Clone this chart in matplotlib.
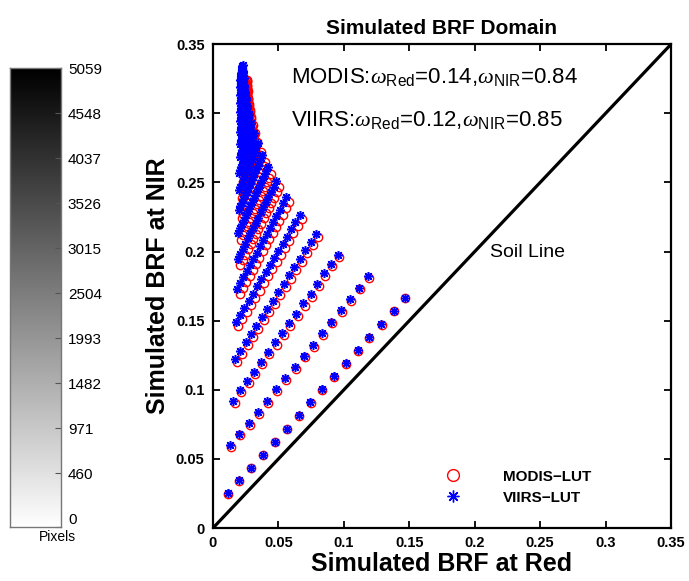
import numpy as np
import matplotlib
matplotlib.use("Agg")
import matplotlib.pyplot as plt
from matplotlib.lines import Line2D

plt.rcParams['font.family'] = ['Liberation Sans', 'DejaVu Sans']
plt.rcParams['mathtext.fontset'] = 'custom'
plt.rcParams['mathtext.rm'] = 'Liberation Sans'
plt.rcParams['mathtext.it'] = 'Liberation Serif:italic'

# VIIRS-LUT simulated BRF, one row per LUT line (red band, NIR band)
viirs_red = [
    [0.0112, 0.0201, 0.0290, 0.0382, 0.0474, 0.0563, 0.0655, 0.0744, 0.0835, 0.0925, 0.1016, 0.1106, 0.1194, 0.1286, 0.1381, 0.1467],
    [0.0130, 0.0201, 0.0273, 0.0344, 0.0415, 0.0481, 0.0553, 0.0624, 0.0695, 0.0764, 0.0833, 0.0904, 0.0976, 0.1047, 0.1116, 0.1187],
    [0.0155, 0.0204, 0.0262, 0.0313, 0.0367, 0.0420, 0.0476, 0.0530, 0.0581, 0.0637, 0.0690, 0.0747, 0.0797, 0.0848, 0.0902, 0.0955],
    [0.0168, 0.0209, 0.0251, 0.0292, 0.0333, 0.0375, 0.0416, 0.0457, 0.0498, 0.0540, 0.0581, 0.0622, 0.0664, 0.0705, 0.0746, 0.0788],
    [0.0176, 0.0208, 0.0241, 0.0273, 0.0306, 0.0338, 0.0370, 0.0403, 0.0435, 0.0468, 0.0500, 0.0532, 0.0565, 0.0597, 0.0630, 0.0662],
    [0.0183, 0.0208, 0.0233, 0.0259, 0.0284, 0.0309, 0.0334, 0.0359, 0.0385, 0.0410, 0.0435, 0.0460, 0.0485, 0.0511, 0.0536, 0.0561],
    [0.0188, 0.0208, 0.0227, 0.0247, 0.0267, 0.0287, 0.0306, 0.0326, 0.0346, 0.0365, 0.0385, 0.0405, 0.0424, 0.0444, 0.0464, 0.0484],
    [0.0193, 0.0208, 0.0224, 0.0239, 0.0255, 0.0270, 0.0285, 0.0301, 0.0316, 0.0332, 0.0347, 0.0362, 0.0378, 0.0393, 0.0409, 0.0424],
    [0.0197, 0.0209, 0.0221, 0.0233, 0.0245, 0.0257, 0.0269, 0.0281, 0.0293, 0.0305, 0.0317, 0.0329, 0.0341, 0.0353, 0.0365, 0.0377],
    [0.0201, 0.0210, 0.0220, 0.0229, 0.0239, 0.0248, 0.0257, 0.0267, 0.0276, 0.0286, 0.0295, 0.0304, 0.0314, 0.0323, 0.0333, 0.0342],
    [0.0203, 0.0210, 0.0218, 0.0225, 0.0233, 0.0240, 0.0247, 0.0255, 0.0262, 0.0270, 0.0277, 0.0284, 0.0292, 0.0299, 0.0307, 0.0314],
    [0.0205, 0.0211, 0.0217, 0.0222, 0.0228, 0.0234, 0.0240, 0.0246, 0.0251, 0.0257, 0.0263, 0.0269, 0.0275, 0.0280, 0.0286, 0.0292],
    [0.0206, 0.0211, 0.0215, 0.0220, 0.0224, 0.0229, 0.0234, 0.0238, 0.0243, 0.0247, 0.0252, 0.0257, 0.0261, 0.0266, 0.0270, 0.0275],
    [0.0207, 0.0211, 0.0214, 0.0218, 0.0222, 0.0226, 0.0229, 0.0233, 0.0237, 0.0240, 0.0244, 0.0248, 0.0251, 0.0255, 0.0259, 0.0263],
    [0.0208, 0.0211, 0.0214, 0.0217, 0.0220, 0.0223, 0.0226, 0.0229, 0.0232, 0.0235, 0.0238, 0.0241, 0.0244, 0.0247, 0.0250, 0.0253],
    [0.0209, 0.0211, 0.0214, 0.0216, 0.0219, 0.0221, 0.0223, 0.0226, 0.0228, 0.0231, 0.0233, 0.0235, 0.0238, 0.0240, 0.0243, 0.0245],
    [0.0209, 0.0211, 0.0213, 0.0215, 0.0217, 0.0219, 0.0221, 0.0223, 0.0225, 0.0227, 0.0229, 0.0231, 0.0233, 0.0235, 0.0237, 0.0239],
    [0.0210, 0.0212, 0.0213, 0.0215, 0.0216, 0.0218, 0.0220, 0.0221, 0.0223, 0.0224, 0.0226, 0.0228, 0.0229, 0.0231, 0.0232, 0.0234],
    [0.0210, 0.0211, 0.0213, 0.0214, 0.0215, 0.0217, 0.0218, 0.0219, 0.0220, 0.0222, 0.0223, 0.0224, 0.0226, 0.0227, 0.0228, 0.0230],
    [0.0210, 0.0211, 0.0212, 0.0213, 0.0214, 0.0216, 0.0217, 0.0218, 0.0219, 0.0220, 0.0221, 0.0222, 0.0223, 0.0224, 0.0225, 0.0227],
]
viirs_nir = [
    [0.0251, 0.0345, 0.0436, 0.0530, 0.0624, 0.0718, 0.0815, 0.0909, 0.1003, 0.1097, 0.1191, 0.1287, 0.1379, 0.1473, 0.1571, 0.1665],
    [0.0600, 0.0682, 0.0761, 0.0839, 0.0920, 0.1003, 0.1085, 0.1164, 0.1246, 0.1325, 0.1412, 0.1492, 0.1574, 0.1656, 0.1740, 0.1822],
    [0.0920, 0.0998, 0.1063, 0.1130, 0.1205, 0.1273, 0.1343, 0.1410, 0.1480, 0.1547, 0.1625, 0.1690, 0.1764, 0.1842, 0.1909, 0.1978],
    [0.1222, 0.1283, 0.1343, 0.1404, 0.1464, 0.1525, 0.1585, 0.1646, 0.1706, 0.1767, 0.1827, 0.1888, 0.1948, 0.2009, 0.2069, 0.2130],
    [0.1490, 0.1542, 0.1593, 0.1645, 0.1696, 0.1748, 0.1800, 0.1851, 0.1903, 0.1954, 0.2006, 0.2058, 0.2109, 0.2161, 0.2212, 0.2264],
    [0.1726, 0.1770, 0.1815, 0.1859, 0.1904, 0.1948, 0.1992, 0.2037, 0.2081, 0.2126, 0.2170, 0.2214, 0.2259, 0.2303, 0.2348, 0.2392],
    [0.1945, 0.1983, 0.2020, 0.2058, 0.2095, 0.2133, 0.2170, 0.2208, 0.2245, 0.2283, 0.2320, 0.2358, 0.2395, 0.2433, 0.2470, 0.2508],
    [0.2135, 0.2167, 0.2199, 0.2230, 0.2262, 0.2294, 0.2326, 0.2358, 0.2389, 0.2421, 0.2453, 0.2485, 0.2517, 0.2548, 0.2580, 0.2612],
    [0.2300, 0.2327, 0.2354, 0.2380, 0.2407, 0.2434, 0.2461, 0.2488, 0.2514, 0.2541, 0.2568, 0.2595, 0.2622, 0.2648, 0.2675, 0.2702],
    [0.2444, 0.2467, 0.2489, 0.2512, 0.2534, 0.2557, 0.2580, 0.2602, 0.2625, 0.2647, 0.2670, 0.2693, 0.2715, 0.2738, 0.2760, 0.2783],
    [0.2571, 0.2590, 0.2609, 0.2629, 0.2648, 0.2667, 0.2686, 0.2705, 0.2725, 0.2744, 0.2763, 0.2782, 0.2801, 0.2821, 0.2840, 0.2859],
    [0.2683, 0.2700, 0.2716, 0.2733, 0.2749, 0.2766, 0.2782, 0.2799, 0.2815, 0.2832, 0.2848, 0.2865, 0.2881, 0.2898, 0.2914, 0.2931],
    [0.2781, 0.2795, 0.2809, 0.2824, 0.2838, 0.2852, 0.2866, 0.2880, 0.2895, 0.2909, 0.2923, 0.2937, 0.2951, 0.2966, 0.2980, 0.2994],
    [0.2867, 0.2879, 0.2892, 0.2904, 0.2917, 0.2929, 0.2941, 0.2954, 0.2966, 0.2979, 0.2991, 0.3003, 0.3016, 0.3028, 0.3041, 0.3053],
    [0.2943, 0.2954, 0.2965, 0.2976, 0.2987, 0.2998, 0.3008, 0.3019, 0.3030, 0.3041, 0.3052, 0.3063, 0.3074, 0.3085, 0.3096, 0.3107],
    [0.3010, 0.3020, 0.3029, 0.3039, 0.3049, 0.3059, 0.3068, 0.3078, 0.3088, 0.3097, 0.3107, 0.3117, 0.3126, 0.3136, 0.3146, 0.3156],
    [0.3072, 0.3081, 0.3090, 0.3099, 0.3108, 0.3117, 0.3126, 0.3135, 0.3144, 0.3153, 0.3162, 0.3171, 0.3180, 0.3189, 0.3198, 0.3207],
    [0.3132, 0.3140, 0.3149, 0.3157, 0.3165, 0.3174, 0.3182, 0.3190, 0.3198, 0.3207, 0.3215, 0.3223, 0.3232, 0.3240, 0.3248, 0.3257],
    [0.3188, 0.3196, 0.3203, 0.3211, 0.3219, 0.3227, 0.3234, 0.3242, 0.3250, 0.3257, 0.3265, 0.3273, 0.3280, 0.3288, 0.3296, 0.3304],
    [0.3240, 0.3247, 0.3254, 0.3262, 0.3269, 0.3276, 0.3283, 0.3290, 0.3298, 0.3305, 0.3312, 0.3319, 0.3326, 0.3334, 0.3341, 0.3348],
]

# MODIS-LUT simulated BRF
modis_red = [
    [0.0114, 0.0203, 0.0292, 0.0384, 0.0476, 0.0565, 0.0657, 0.0746, 0.0837, 0.0927, 0.1018, 0.1108, 0.1196, 0.1288, 0.1383, 0.1469],
    [0.0138, 0.0209, 0.0281, 0.0352, 0.0423, 0.0489, 0.0561, 0.0632, 0.0703, 0.0772, 0.0841, 0.0912, 0.0984, 0.1055, 0.1124, 0.1195],
    [0.0165, 0.0214, 0.0272, 0.0323, 0.0377, 0.0430, 0.0486, 0.0540, 0.0591, 0.0647, 0.0700, 0.0757, 0.0807, 0.0858, 0.0912, 0.0965],
    [0.0183, 0.0224, 0.0266, 0.0307, 0.0348, 0.0390, 0.0431, 0.0472, 0.0513, 0.0555, 0.0596, 0.0637, 0.0679, 0.0720, 0.0761, 0.0803],
    [0.0194, 0.0226, 0.0259, 0.0291, 0.0324, 0.0356, 0.0388, 0.0421, 0.0453, 0.0486, 0.0518, 0.0550, 0.0583, 0.0615, 0.0648, 0.0680],
    [0.0204, 0.0229, 0.0254, 0.0280, 0.0305, 0.0330, 0.0355, 0.0380, 0.0406, 0.0431, 0.0456, 0.0481, 0.0506, 0.0532, 0.0557, 0.0582],
    [0.0210, 0.0230, 0.0249, 0.0269, 0.0289, 0.0309, 0.0328, 0.0348, 0.0368, 0.0387, 0.0407, 0.0427, 0.0446, 0.0466, 0.0486, 0.0506],
    [0.0216, 0.0231, 0.0247, 0.0262, 0.0278, 0.0293, 0.0308, 0.0324, 0.0339, 0.0355, 0.0370, 0.0385, 0.0401, 0.0416, 0.0432, 0.0447],
    [0.0221, 0.0233, 0.0245, 0.0257, 0.0269, 0.0281, 0.0293, 0.0305, 0.0317, 0.0329, 0.0341, 0.0353, 0.0365, 0.0377, 0.0389, 0.0401],
    [0.0226, 0.0235, 0.0245, 0.0254, 0.0264, 0.0273, 0.0282, 0.0292, 0.0301, 0.0311, 0.0320, 0.0329, 0.0339, 0.0348, 0.0358, 0.0367],
    [0.0229, 0.0236, 0.0244, 0.0251, 0.0259, 0.0266, 0.0273, 0.0281, 0.0288, 0.0296, 0.0303, 0.0310, 0.0318, 0.0325, 0.0333, 0.0340],
    [0.0232, 0.0238, 0.0244, 0.0249, 0.0255, 0.0261, 0.0267, 0.0273, 0.0278, 0.0284, 0.0290, 0.0296, 0.0302, 0.0307, 0.0313, 0.0319],
    [0.0234, 0.0239, 0.0243, 0.0248, 0.0252, 0.0257, 0.0262, 0.0266, 0.0271, 0.0275, 0.0280, 0.0285, 0.0289, 0.0294, 0.0298, 0.0303],
    [0.0236, 0.0240, 0.0243, 0.0247, 0.0251, 0.0255, 0.0258, 0.0262, 0.0266, 0.0269, 0.0273, 0.0277, 0.0280, 0.0284, 0.0288, 0.0292],
    [0.0238, 0.0241, 0.0244, 0.0247, 0.0250, 0.0253, 0.0256, 0.0259, 0.0262, 0.0265, 0.0268, 0.0271, 0.0274, 0.0277, 0.0280, 0.0283],
    [0.0240, 0.0242, 0.0245, 0.0247, 0.0250, 0.0252, 0.0254, 0.0257, 0.0259, 0.0262, 0.0264, 0.0266, 0.0269, 0.0271, 0.0274, 0.0276],
    [0.0240, 0.0242, 0.0244, 0.0246, 0.0248, 0.0250, 0.0252, 0.0254, 0.0256, 0.0258, 0.0260, 0.0262, 0.0264, 0.0266, 0.0268, 0.0270],
    [0.0242, 0.0244, 0.0245, 0.0247, 0.0248, 0.0250, 0.0252, 0.0253, 0.0255, 0.0256, 0.0258, 0.0260, 0.0261, 0.0263, 0.0264, 0.0266],
    [0.0242, 0.0243, 0.0245, 0.0246, 0.0247, 0.0249, 0.0250, 0.0251, 0.0252, 0.0254, 0.0255, 0.0256, 0.0258, 0.0259, 0.0260, 0.0262],
    [0.0243, 0.0244, 0.0245, 0.0246, 0.0247, 0.0249, 0.0250, 0.0251, 0.0252, 0.0253, 0.0254, 0.0255, 0.0256, 0.0257, 0.0258, 0.0260],
]
modis_nir = [
    [0.0248, 0.0342, 0.0433, 0.0527, 0.0621, 0.0715, 0.0812, 0.0906, 0.1000, 0.1094, 0.1188, 0.1284, 0.1376, 0.1470, 0.1568, 0.1662],
    [0.0588, 0.0670, 0.0749, 0.0827, 0.0908, 0.0991, 0.1073, 0.1152, 0.1234, 0.1313, 0.1400, 0.1480, 0.1562, 0.1644, 0.1728, 0.1810],
    [0.0904, 0.0982, 0.1047, 0.1114, 0.1189, 0.1257, 0.1327, 0.1394, 0.1464, 0.1531, 0.1609, 0.1674, 0.1748, 0.1826, 0.1893, 0.1962],
    [0.1200, 0.1261, 0.1321, 0.1382, 0.1442, 0.1503, 0.1563, 0.1624, 0.1684, 0.1745, 0.1805, 0.1866, 0.1926, 0.1987, 0.2047, 0.2108],
    [0.1460, 0.1512, 0.1563, 0.1615, 0.1666, 0.1718, 0.1770, 0.1821, 0.1873, 0.1924, 0.1976, 0.2028, 0.2079, 0.2131, 0.2182, 0.2234],
    [0.1690, 0.1734, 0.1779, 0.1823, 0.1868, 0.1912, 0.1956, 0.2001, 0.2045, 0.2090, 0.2134, 0.2178, 0.2223, 0.2267, 0.2312, 0.2356],
    [0.1903, 0.1941, 0.1978, 0.2016, 0.2053, 0.2091, 0.2128, 0.2166, 0.2203, 0.2241, 0.2278, 0.2316, 0.2353, 0.2391, 0.2428, 0.2466],
    [0.2087, 0.2119, 0.2151, 0.2182, 0.2214, 0.2246, 0.2278, 0.2310, 0.2341, 0.2373, 0.2405, 0.2437, 0.2469, 0.2500, 0.2532, 0.2564],
    [0.2246, 0.2273, 0.2300, 0.2326, 0.2353, 0.2380, 0.2407, 0.2434, 0.2460, 0.2487, 0.2514, 0.2541, 0.2568, 0.2594, 0.2621, 0.2648],
    [0.2384, 0.2407, 0.2429, 0.2452, 0.2474, 0.2497, 0.2520, 0.2542, 0.2565, 0.2587, 0.2610, 0.2633, 0.2655, 0.2678, 0.2700, 0.2723],
    [0.2505, 0.2524, 0.2543, 0.2563, 0.2582, 0.2601, 0.2620, 0.2639, 0.2659, 0.2678, 0.2697, 0.2716, 0.2735, 0.2755, 0.2774, 0.2793],
    [0.2612, 0.2629, 0.2645, 0.2662, 0.2678, 0.2695, 0.2711, 0.2728, 0.2744, 0.2761, 0.2777, 0.2794, 0.2810, 0.2827, 0.2843, 0.2860],
    [0.2705, 0.2719, 0.2733, 0.2748, 0.2762, 0.2776, 0.2790, 0.2804, 0.2819, 0.2833, 0.2847, 0.2861, 0.2875, 0.2890, 0.2904, 0.2918],
    [0.2786, 0.2798, 0.2811, 0.2823, 0.2836, 0.2848, 0.2860, 0.2873, 0.2885, 0.2898, 0.2910, 0.2922, 0.2935, 0.2947, 0.2960, 0.2972],
    [0.2857, 0.2868, 0.2879, 0.2890, 0.2901, 0.2912, 0.2922, 0.2933, 0.2944, 0.2955, 0.2966, 0.2977, 0.2988, 0.2999, 0.3010, 0.3021],
    [0.2920, 0.2930, 0.2939, 0.2949, 0.2959, 0.2969, 0.2978, 0.2988, 0.2998, 0.3007, 0.3017, 0.3027, 0.3036, 0.3046, 0.3056, 0.3066],
    [0.2978, 0.2987, 0.2996, 0.3005, 0.3014, 0.3023, 0.3032, 0.3041, 0.3050, 0.3059, 0.3068, 0.3077, 0.3086, 0.3095, 0.3104, 0.3113],
    [0.3034, 0.3042, 0.3051, 0.3059, 0.3067, 0.3076, 0.3084, 0.3092, 0.3100, 0.3109, 0.3117, 0.3125, 0.3134, 0.3142, 0.3150, 0.3159],
    [0.3086, 0.3094, 0.3101, 0.3109, 0.3117, 0.3125, 0.3132, 0.3140, 0.3148, 0.3155, 0.3163, 0.3171, 0.3178, 0.3186, 0.3194, 0.3202],
    [0.3135, 0.3142, 0.3149, 0.3157, 0.3164, 0.3171, 0.3178, 0.3185, 0.3193, 0.3200, 0.3207, 0.3214, 0.3221, 0.3229, 0.3236, 0.3243],
]

soil_line = [0, 0.35]
axis_ticks = [0, 0.05, 0.1, 0.15, 0.2, 0.25, 0.3, 0.35]
axis_ticklabels = ['0', '0.05', '0.1', '0.15', '0.2', '0.25', '0.3', '0.35']
cbar_values = [0, 460, 971, 1482, 1993, 2504, 3015, 3526, 4037, 4548, 5059]

asterisk = (8, 2, 0)

fig = plt.figure(figsize=(6.89, 5.81), dpi=100)

# main scatter panel
ax = fig.add_axes([0.309, 0.091, 0.665, 0.833])
for xs, ys in zip(modis_red, modis_nir):
    ax.plot(xs, ys, linestyle='none', marker='o', markersize=6, markerfacecolor='none',
            markeredgecolor='red', markeredgewidth=1.0)
for xs, ys in zip(viirs_red, viirs_nir):
    ax.plot(xs, ys, linestyle='none', marker=asterisk, markersize=6.5, color='blue',
            markeredgewidth=1.1)
ax.plot(soil_line, soil_line, color='black', linewidth=2.3)

ax.set_xlim(0, 0.35)
ax.set_ylim(0, 0.35)
ax.set_xticks(axis_ticks)
ax.set_xticklabels(axis_ticklabels, fontweight='bold', fontsize=10.5)
ax.set_yticks(axis_ticks)
ax.set_yticklabels(axis_ticklabels, fontweight='bold', fontsize=10.5)
ax.tick_params(direction='in', length=5, width=1.3, top=True, right=True, pad=6)
for sp in ax.spines.values():
    sp.set_linewidth(1.6)

ax.set_title('Simulated BRF Domain', fontsize=15, fontweight='bold', pad=7)
ax.set_xlabel('Simulated BRF at Red', fontsize=18, fontweight='bold', labelpad=1)
ax.set_ylabel('Simulated BRF at NIR', fontsize=18, fontweight='bold', labelpad=4)

ax.text(0.0595, 0.3265, r'MODIS:$\omega_{\mathrm{Red}}$=0.14,$\omega_{\mathrm{NIR}}$=0.84',
        fontsize=16, va='center', ha='left')
ax.text(0.0595, 0.2955, r'VIIRS:$\omega_{\mathrm{Red}}$=0.12,$\omega_{\mathrm{NIR}}$=0.85',
        fontsize=16, va='center', ha='left')
ax.text(0.2405, 0.1996, 'Soil Line', fontsize=14, va='center', ha='center')

handles = [
    Line2D([], [], linestyle='none', marker='o', markersize=8.5, markerfacecolor='none',
           markeredgecolor='red', markeredgewidth=1.0, label='MODIS\u2212LUT'),
    Line2D([], [], linestyle='none', marker=asterisk, markersize=8.5, color='blue',
           markeredgewidth=1.0, label='VIIRS\u2212LUT'),
]
ax.legend(handles=handles, loc='lower left', bbox_to_anchor=(0.46, 0.02), frameon=False,
          prop={'weight': 'bold', 'size': 11}, handletextpad=2.3, labelspacing=0.45)

# colour bar of pixel counts
cbar_lo = -146
cax = fig.add_axes([0.0145, 0.0935, 0.074, 0.789])
grad = np.linspace(0, 1, 256).reshape(-1, 1)
cax.imshow(grad, aspect='auto', cmap='gray_r', origin='lower',
           extent=[0, 1, cbar_lo, cbar_values[-1]])
cax.set_xlim(0, 1)
cax.set_ylim(cbar_lo, cbar_values[-1])
cax.set_xticks([])
cax.yaxis.tick_right()
cax.set_yticks([cbar_lo] + cbar_values[1:])
cax.set_yticklabels([str(v) for v in cbar_values], fontsize=11)
cax.get_yticklabels()[0].set_verticalalignment('bottom')
cax.tick_params(axis='y', direction='in', length=4, width=0.8, colors='#555555',
                labelcolor='black', pad=5)
for sp in cax.spines.values():
    sp.set_color('#777777')
    sp.set_linewidth(1.0)
fig.text(0.084, 0.075, 'Pixels', fontsize=10, ha='center', va='center')

fig.savefig('out.png', dpi=100)
